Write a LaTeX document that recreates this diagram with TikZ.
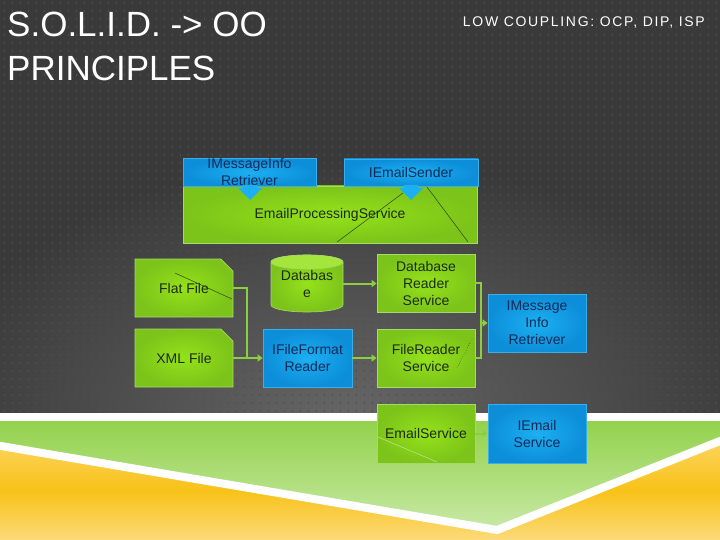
\documentclass[tikz,border=0pt]{standalone}
\usepackage{fontspec}
\setmainfont{Liberation Sans}
\usetikzlibrary{arrows.meta,shapes.misc}
\definecolor{bgc}{HTML}{3A3A3A}
\definecolor{glowc}{HTML}{666666}
\definecolor{dotc}{HTML}{4F4F4F}
\definecolor{gtop}{HTML}{94E21A}
\definecolor{gbot}{HTML}{7CC41A}
\definecolor{gedge}{HTML}{A6D86A}
\definecolor{btop}{HTML}{1CB0F2}
\definecolor{bbot}{HTML}{0C8ED8}
\definecolor{bedge}{HTML}{3AAEEA}
\definecolor{gtext}{HTML}{1E2A14}
\definecolor{btext}{HTML}{142A58}
\definecolor{connc}{HTML}{8CCF3E}
\definecolor{lgreen1}{HTML}{93D24C}
\definecolor{lgreen2}{HTML}{C8E9A6}
\definecolor{ylight}{HTML}{FCD45E}
\definecolor{ymid}{HTML}{F8C218}
\definecolor{ybot}{HTML}{FCDA7A}
\definecolor{strayc}{HTML}{2E4412}
\tikzset{
  boxfont/.style={font=\fontsize{14}{17}\selectfont, align=center, inner sep=0pt},
  gbox/.style={boxfont, draw=gedge, line width=0.8pt, inner color=gtop, outer color=gbot, text=gtext},
  bbox/.style={boxfont, draw=bedge, line width=0.8pt, inner color=btop, outer color=bbot, text=btext},
  filebox/.style={gbox, chamfered rectangle, chamfered rectangle corners=north east, chamfered rectangle xsep=7pt, chamfered rectangle ysep=7pt},
  conn/.style={draw=connc, line width=2pt},
  arr/.style={conn, -{Triangle[length=5pt,width=7pt]}},
  chev/.style={fill=btop},
  stray/.style={draw=strayc, line width=0.5pt},
}
\begin{document}
\begin{tikzpicture}[x=1pt,y=-1pt]
\useasboundingbox (0,0) rectangle (720,540);
% dark background
\fill[bgc] (0,0) rectangle (720,413);
\begin{scope}
  \clip (0,0) rectangle (720,413);
  \shade[inner color=glowc, outer color=bgc] (350,420) ellipse [x radius=420, y radius=260];
  \draw[dotc, line width=0.8pt] \foreach \i in {0,...,89} { \foreach \j in {0,...,51} { (4+\i*8,2+\j*8) -- ++(0,2.4) } };
\end{scope}
% bottom bands
\fill[white] (0,413) rectangle (720,540);
\shade[top color=lgreen1, bottom color=lgreen2] (0,421) -- (720,421) -- (720,441) -- (497,530) -- (0,446) -- cycle;
\shade[top color=ylight, bottom color=ybot, middle color=ymid] (0,446) -- (497,530) -- (720,441) -- (720,540) -- (0,540) -- cycle;
\draw[white, line width=8pt] (-5,445) -- (497,530) -- (725,439);
% titles
\node[anchor=base west, inner sep=0pt, text=white, font=\fontsize{35}{44}\selectfont] (title1) at (7,37) {S.O.L.I.D. -> OO};
\node[anchor=base west, inner sep=0pt, text=white, font=\fontsize{35}{44}\selectfont] (title2) at (7,81) {PRINCIPLES};
\node[anchor=base east, inner sep=0pt, text=white, font=\fontsize{14}{17}\selectfont\addfontfeature{LetterSpace=12}] (sub) at (705,27) {LOW COUPLING: OCP, DIP, ISP};
% top group
\node[gbox, minimum width=294pt, minimum height=57pt] (eps) at (330,214.5) {};
\node[bbox, minimum width=133pt, minimum height=27pt] (imr1) at (249.5,172.5) {IMessageInfo\\Retriever};
\node[bbox, minimum width=134pt, minimum height=27pt] (ies1) at (411,172.5) {IEmailSender};
\fill[chev] (243,185) -- (257,185) -- (257,188) -- (262,188) -- (250,200) -- (238,188) -- (243,188) -- cycle;
\fill[chev] (404,185) -- (418,185) -- (418,188) -- (423,188) -- (411,200) -- (399,188) -- (404,188) -- cycle;
\node[boxfont, text=gtext] (epst) at (330,215) {EmailProcessingService};
\draw[stray] (337,242) -- (403,193);
\draw[stray] (427,187) -- (468,242);
% file sources
\node[filebox, minimum width=98pt, minimum height=58pt] (flat) at (184,288) {Flat File};
\node[filebox, minimum width=98pt, minimum height=58pt] (xml) at (184,358) {XML File};
\draw[stray] (175,273) -- (232,299);
% database cylinder
\shade[inner color=gtop, outer color=gbot, draw=gedge, line width=0.6pt] (271,262) -- (271,305) arc[start angle=180, end angle=0, x radius=36, y radius=7] -- (343,262) arc[start angle=0, end angle=-180, x radius=36, y radius=7] -- cycle;
\draw[gedge, fill=gtop!85!white, line width=0.6pt] (307,262) ellipse [x radius=36, y radius=7];
\node[boxfont, text=gtext, minimum width=72pt, minimum height=57pt] (db) at (307,283.5) {Databas\\e};
% middle / right boxes
\node[bbox, minimum width=89pt, minimum height=58pt] (iffr) at (307.5,358) {IFileFormat\\Reader};
\node[gbox, minimum width=98pt, minimum height=58pt] (dbrs) at (426,283) {Database\\Reader\\Service};
\node[gbox, minimum width=98pt, minimum height=58pt] (frs) at (426,358) {FileReader\\Service};
\node[bbox, minimum width=98pt, minimum height=58pt] (imir) at (537,323) {IMessage\\Info\\Retriever};
\node[gbox, minimum width=98pt, minimum height=59pt] (es) at (426,433.5) {EmailService};
\node[bbox, minimum width=98pt, minimum height=59pt] (ies) at (537,433.5) {IEmail\\Service};
\draw[stray, dotted] (457,368) -- (473,337);
\draw[gedge!70!white, line width=0.5pt] (378,437) -- (437,462);
% connectors
\coordinate (j1) at (247,358);
\coordinate (j2) at (481,323);
\draw[conn] (flat.east) -| (j1);
\draw[arr] (xml.east) -- (iffr.west);
\draw[arr] (db.east) -- (dbrs.west |- db.east);
\draw[arr] (iffr.east) -- (frs.west);
\draw[conn] (dbrs.east) -| (j2);
\draw[conn] (frs.east) -| (j2);
\draw[arr] (j2) -- (imir.west);
\draw[arr] (es.east) -- (ies.west);
\end{tikzpicture}
\end{document}
